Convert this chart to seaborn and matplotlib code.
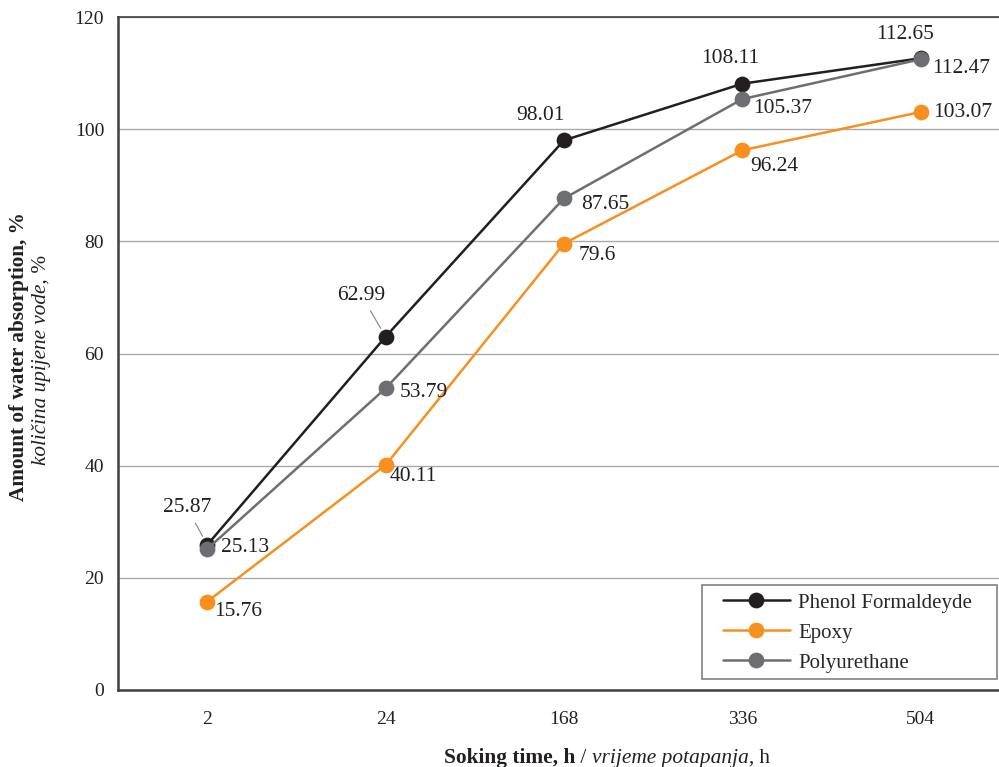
import matplotlib
matplotlib.use("Agg")
import matplotlib.pyplot as plt
from matplotlib.patches import Rectangle
import seaborn as sns
import pandas as pd

# Soaking times (h) and water absorption (%) for each resin
times = ["2", "24", "168", "336", "504"]
phenol_formaldehyde = [25.87, 62.99, 98.01, 108.11, 112.65]
epoxy = [15.76, 40.11, 79.6, 96.24, 103.07]
polyurethane = [25.13, 53.79, 87.65, 105.37, 112.47]
series_names = ["Phenol Formaldeyde", "Epoxy", "Polyurethane"]
y_ticks = [0, 20, 40, 60, 80, 100, 120]

colors = {"Phenol Formaldeyde": "#231f20", "Epoxy": "#f7901e", "Polyurethane": "#6d6e71"}

sns.set_theme(style="white")
plt.rcParams["font.family"] = ["Liberation Serif", "DejaVu Serif"]

df = pd.DataFrame({
    "time": times * 3,
    "value": phenol_formaldehyde + epoxy + polyurethane,
    "resin": [n for n in series_names for _ in times],
})

fig = plt.figure(figsize=(9.99, 7.67), dpi=100)
W, H = 999, 767
left, right, top, bottom = 118, 1010, 17, 690
ax = fig.add_axes([left / W, (H - bottom) / H, (right - left) / W, (bottom - top) / H])

sns.pointplot(data=df, x="time", y="value", hue="resin", order=times,
              hue_order=series_names, palette=colors, markers="o",
              markersize=10, linewidth=1.8, errorbar=None, ax=ax)
for line in ax.lines:
    line.set_zorder(3)

ax.set_xlim(-0.5, 4.5)
ax.set_ylim(0, 120)
ax.set_yticks(y_ticks)
ax.tick_params(axis="both", length=0, labelsize=14, colors="#231f20")
ax.tick_params(axis="x", pad=15)
ax.tick_params(axis="y", pad=10)
ax.set_xlabel("")
ax.set_ylabel("")
ax.yaxis.grid(True, color="#a7a9ac", linewidth=1.0)
ax.set_axisbelow(True)
for side in ["left", "bottom", "top"]:
    ax.spines[side].set_color("#404041")
    ax.spines[side].set_linewidth(1.8)
ax.spines["top"].set_linewidth(1.2)
ax.spines["right"].set_visible(False)

# Value labels: (dx, dy) offsets in pixels, plus whether a leader line is drawn
label_offsets = {
    "Phenol Formaldeyde": [(-20, 37, True), (-24, 41, True), (-24, 25, False), (-12, 25, False), (-16, 24, False)],
    "Epoxy": [(31, -10, False), (28, -11, False), (33, -12, False), (32, -16, False), (42, -1, False)],
    "Polyurethane": [(38, 2, False), (38, -4, False), (41, -6, False), (40, -9, False), (40, -9, False)],
}
values = {"Phenol Formaldeyde": phenol_formaldehyde, "Epoxy": epoxy, "Polyurethane": polyurethane}
for name in series_names:
    for i, v in enumerate(values[name]):
        dx, dy, leader = label_offsets[name][i]
        kw = {}
        if leader:
            kw["arrowprops"] = dict(arrowstyle="-", color="#808285", lw=0.8, shrinkA=2, shrinkB=7)
        ax.annotate(f"{v:g}", xy=(i, v), xytext=(dx, dy), textcoords="offset pixels",
                    ha="center", va="center", fontsize=15.5, color="#231f20", zorder=5, **kw)

# Legend entries without the default frame; the box is drawn separately
handles, labels = ax.get_legend_handles_labels()
leg = ax.legend(handles, labels, loc="upper left",
                bbox_to_anchor=(723 / W, (H - 593) / H), bbox_transform=fig.transFigure,
                fontsize=15, frameon=False, handlelength=3.2, handletextpad=0.42,
                labelspacing=0.5, borderpad=0, borderaxespad=0)
leg.set_zorder(10)
ax.add_patch(Rectangle((702 / W, (H - 679) / H), (997 - 702) / W, (679 - 585) / H,
                       transform=fig.transFigure, facecolor="white", clip_on=False,
                       edgecolor="#808285", linewidth=1.2, zorder=9))


def mixed_text(pieces, x, y, rotation=0, size=14):
    """Place runs of differently styled text centred on (x, y) in figure pixels."""
    renderer = fig.canvas.get_renderer()
    widths = []
    for txt, weight, style in pieces:
        t = fig.text(0, 0, txt, fontsize=size, fontweight=weight, fontstyle=style)
        widths.append(t.get_window_extent(renderer).width)
        t.remove()
    total = sum(widths)
    pos = -total / 2
    for (txt, weight, style), w in zip(pieces, widths):
        if rotation == 90:
            px, py = x, y + pos
        else:
            px, py = x + pos, y
        fig.text(px / W, py / H, txt, fontsize=size, fontweight=weight, fontstyle=style,
                 rotation=rotation, rotation_mode="anchor", ha="left", va="baseline",
                 color="#231f20")
        pos += w


fig.canvas.draw()
mixed_text([("Soking time, h", "bold", "normal"), (" / ", "normal", "normal"),
            ("vrijeme potapanja,", "normal", "italic"), (" h", "normal", "normal")],
           607, H - 763, size=15.4)
mixed_text([("Amount of water absorption, %", "bold", "normal")], 24, H - 357, rotation=90, size=15.3)
mixed_text([("količina upijene vode,", "normal", "italic"), (" %", "normal", "normal")],
           46, H - 360, rotation=90, size=15.3)

fig.savefig("out.png", dpi=100)
